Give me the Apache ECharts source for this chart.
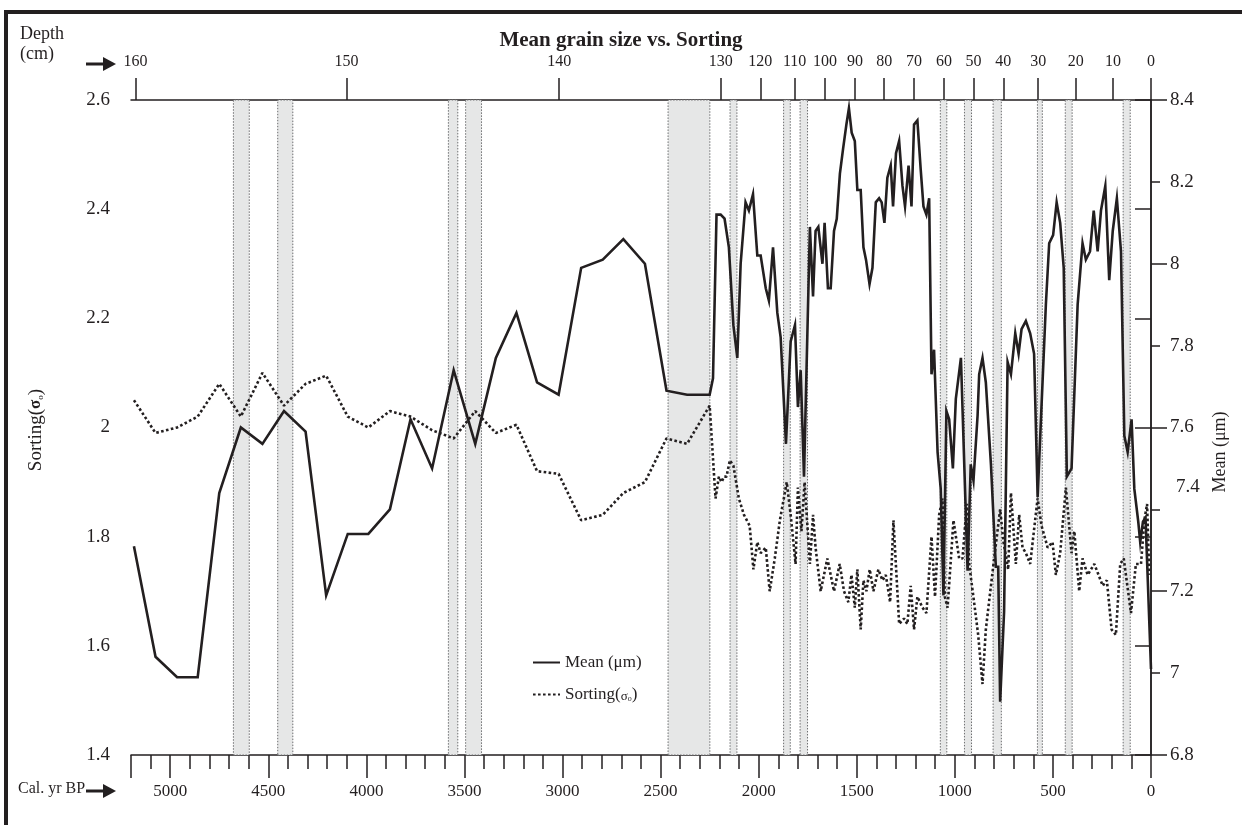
<!DOCTYPE html>
<html>
<head>
<meta charset="utf-8">
<script src="https://cdn.jsdelivr.net/npm/echarts@6/dist/echarts.min.js"></script>
<style>
html,body{margin:0;padding:0;background:#fff;}
#c{width:1242px;height:825px;}
</style>
</head>
<body>
<div id="c"></div>
<script>
// ---------------- DATA ----------------
// Bottom axis (Cal. yr BP) label values
const calLabels = [0, 500, 1000, 1500, 2000, 2500, 3000, 3500, 4000, 4500, 5000];
const calMajorTicks = [0, 500, 1000, 1500, 2000, 2500, 3000, 3500, 4000, 4500, 5000, 5200];
// Top axis: depth (cm) labels and the age at which each sits
const depthLabels = [160, 150, 140, 130, 120, 110, 100, 90, 80, 70, 60, 50, 40, 30, 20, 10, 0];
const depthAges   = [5177, 4101, 3017, 2194, 1992, 1817, 1662, 1509, 1360, 1208, 1055, 905, 753, 575, 383, 194, 0];
// Right axis long ticks
const meanMajorTicks = [6.8, 7.2, 7.6, 8.0, 8.4];

// Shaded intervals (Cal. yr BP)
const bandStart = [4678, 4452, 3582, 3494, 2462, 2146, 1873, 1789, 1074, 951, 805, 579, 437, 142];
const bandEnd   = [4597, 4375, 3534, 3413, 2249, 2111, 1839, 1751, 1041, 915, 763, 554, 402, 106];

// Lower (older) part: samples shared by both curves
const oldAges = [5185, 5075, 4965, 4860, 4750, 4640, 4530, 4420, 4310, 4205, 4095, 3990, 3880, 3775,
                 3665, 3555, 3445, 3340, 3235, 3130, 3020, 2905, 2795, 2690, 2580, 2470, 2365, 2250];
const oldMean = [7.31, 7.04, 6.99, 6.99, 7.44, 7.60, 7.56, 7.64, 7.59, 7.19, 7.34, 7.34, 7.40, 7.62,
                 7.50, 7.74, 7.56, 7.77, 7.88, 7.71, 7.68, 7.99, 8.01, 8.06, 8.00, 7.69, 7.68, 7.68];
const oldSorting = [2.05, 1.99, 2.00, 2.02, 2.08, 2.02, 2.10, 2.04, 2.08, 2.095, 2.02, 2.00, 2.03, 2.02,
                    1.995, 1.98, 2.03, 1.99, 2.005, 1.92, 1.915, 1.83, 1.84, 1.88, 1.90, 1.98, 1.97, 2.04];

// Upper (younger) part: Mean (µm)
const youngMeanAges = [2233, 2215, 2194, 2174, 2152, 2129, 2109, 2092, 2067, 2050, 2029, 2007, 1990, 1964,
  1948, 1927, 1905, 1888, 1861, 1837, 1815, 1800, 1786, 1769, 1739, 1723, 1710, 1696, 1675, 1664, 1647,
  1633, 1616, 1602, 1586, 1570, 1553, 1540, 1526, 1510, 1497, 1480, 1466, 1453, 1435, 1420, 1403, 1386,
  1373, 1359, 1344, 1327, 1315, 1300, 1284, 1267, 1254, 1236, 1221, 1208, 1191, 1174, 1160, 1145, 1131,
  1119, 1106, 1088, 1072, 1058, 1043, 1029, 1010, 995, 969, 935, 919, 905, 884, 876, 859, 842, 816, 791,
  779, 769, 749, 731, 714, 692, 675, 660, 638, 616, 596, 578, 536, 519, 499, 481, 463, 445, 429, 405,
  374, 349, 332, 311, 292, 272, 255, 233, 213, 195, 174, 153, 136, 119, 99, 85, 65, 55, 41, 28, 0];
const youngMean = [7.72, 8.12, 8.12, 8.11, 8.04, 7.85, 7.77, 8.00, 8.15, 8.13, 8.17, 8.02, 8.02, 7.94,
  7.91, 8.04, 7.88, 7.82, 7.56, 7.81, 7.85, 7.65, 7.74, 7.48, 8.09, 7.92, 8.08, 8.09, 8.00, 8.10, 7.94,
  7.94, 8.08, 8.11, 8.22, 8.28, 8.34, 8.38, 8.32, 8.30, 8.18, 8.18, 8.04, 8.01, 7.95, 7.99, 8.15, 8.16,
  8.15, 8.10, 8.21, 8.24, 8.14, 8.27, 8.30, 8.19, 8.14, 8.24, 8.14, 8.34, 8.35, 8.23, 8.14, 8.12, 8.16,
  7.73, 7.79, 7.54, 7.45, 7.19, 7.64, 7.62, 7.50, 7.67, 7.77, 7.25, 7.51, 7.47, 7.63, 7.73, 7.77, 7.71, 7.51, 7.26,
  7.26, 6.93, 7.15, 7.76, 7.73, 7.83, 7.78, 7.84, 7.86, 7.83, 7.78, 7.43, 7.90, 8.05, 8.07, 8.15, 8.10, 7.99, 7.48, 7.50,
  7.90, 8.05, 8.01, 8.03, 8.13, 8.03, 8.13, 8.19, 7.96, 8.08, 8.16, 8.03, 7.58, 7.54, 7.62, 7.45, 7.37, 7.32, 7.37, 7.38, 7.01];

// Upper (younger) part: Sorting
const youngSortAges = [2220, 2203, 2189, 2177, 2164, 2147, 2129, 2101, 2075, 2046, 2027, 2007, 1990, 1964,
  1944, 1918, 1892, 1857, 1837, 1812, 1800, 1782, 1766, 1739, 1723, 1710, 1684, 1650, 1616, 1587, 1565,
  1543, 1527, 1510, 1497, 1480, 1466, 1451, 1434, 1415, 1390, 1369, 1352, 1330, 1313, 1284, 1259, 1242,
  1225, 1208, 1191, 1165, 1145, 1119, 1101, 1080, 1063, 1051, 1037, 1007, 978, 961, 939, 927, 902, 881,
  859, 842, 803, 769, 752, 728, 714, 689, 672, 655, 638, 616, 578, 558, 527, 502, 485, 463, 434, 405,
  391, 366, 349, 323, 289, 246, 225, 201, 179, 157, 139, 102, 77, 51, 34, 20, 9];
const youngSorting = [1.87, 1.91, 1.90, 1.91, 1.91, 1.94, 1.93, 1.87, 1.84, 1.82, 1.74, 1.79, 1.77, 1.78,
  1.70, 1.76, 1.83, 1.90, 1.84, 1.75, 1.89, 1.81, 1.90, 1.75, 1.84, 1.78, 1.70, 1.76, 1.70, 1.75, 1.70,
  1.68, 1.73, 1.67, 1.74, 1.63, 1.72, 1.70, 1.74, 1.70, 1.74, 1.72, 1.73, 1.68, 1.83, 1.64, 1.65, 1.64,
  1.71, 1.63, 1.69, 1.67, 1.66, 1.80, 1.69, 1.84, 1.87, 1.69, 1.67, 1.83, 1.76, 1.76, 1.86, 1.75, 1.68, 1.62,
  1.53, 1.63, 1.75, 1.85, 1.79, 1.74, 1.88, 1.75, 1.84, 1.78, 1.77, 1.75, 1.87, 1.82, 1.78, 1.79, 1.73, 1.77, 1.89, 1.77,
  1.81, 1.70, 1.76, 1.73, 1.75, 1.71, 1.72, 1.63, 1.62, 1.75, 1.76, 1.66, 1.75, 1.75, 1.83, 1.86, 1.73];

// ---------------- CHART ----------------
const INK = '#231f20';
const FONT = '"Liberation Serif", "Times New Roman", serif';

const meanData = oldAges.map((a, i) => [a, oldMean[i]])
  .concat(youngMeanAges.map((a, i) => [a, youngMean[i]]));
const sortData = oldAges.map((a, i) => [a, oldSorting[i]])
  .concat(youngSortAges.map((a, i) => [a, youngSorting[i]]));
const bandAreas = bandStart.map((s, i) => [{ xAxis: s }, { xAxis: bandEnd[i] }]);

const axisLine = { show: true, lineStyle: { color: INK, width: 1.5 } };
const tickStyle = { color: INK, width: 1.5 };

const chart = echarts.init(document.getElementById('c'), null, { renderer: 'canvas' });
chart.setOption({
  animation: false,
  backgroundColor: '#ffffff',
  title: {
    text: 'Mean grain size vs. Sorting',
    left: 'center', top: 25,
    textStyle: { fontFamily: FONT, fontWeight: 'bold', fontSize: 21, color: INK }
  },
  grid: { left: 131, right: 91, top: 100, bottom: 70 },
  legend: {
    orient: 'vertical', left: 527, top: 649,
    itemWidth: 27, itemHeight: 14, itemGap: 15,
    itemStyle: { opacity: 0, borderWidth: 0 },
    textStyle: {
      fontFamily: FONT, fontSize: 17, color: INK,
      rich: {
        n: { fontFamily: FONT, fontSize: 17, color: INK },
        g: { fontFamily: FONT, fontSize: 13, color: INK, padding: [4, 0, 0, 0] },
        s: { fontFamily: FONT, fontSize: 8, color: INK, padding: [8, 0, 0, 0] }
      }
    },
    formatter: function (name) {
      return name === 'Sorting' ? '{n|Sorting(}{g|σ}{s|o}{n|)}' : name;
    },
    data: ['Mean (μm)', 'Sorting']
  },
  xAxis: [
    {
      type: 'value', position: 'bottom', min: 0, max: 5200, interval: 100, inverse: true,
      axisLine: axisLine,
      axisTick: { show: true, length: 14, lineStyle: tickStyle },
      axisLabel: {
        customValues: calLabels, margin: 28, fontFamily: FONT, fontSize: 17, color: INK,
        formatter: function (v) { return String(v); }
      },
      splitLine: { show: false }
    },
    {
      type: 'value', position: 'top', min: 0, max: 5200, inverse: true,
      axisLine: axisLine,
      axisTick: { show: true, customValues: depthAges, length: 22, lineStyle: tickStyle },
      axisLabel: {
        customValues: depthAges, margin: 30, fontFamily: FONT, fontSize: 16, color: INK,
        formatter: function (v) {
          const i = depthAges.indexOf(v);
          return i >= 0 ? String(depthLabels[i]) : '';
        }
      },
      splitLine: { show: false }
    },
    {
      type: 'value', position: 'bottom', min: 0, max: 5200, inverse: true,
      axisLine: { show: false },
      axisTick: { show: true, customValues: calMajorTicks, length: 23, lineStyle: tickStyle },
      axisLabel: { show: false },
      splitLine: { show: false }
    }
  ],
  yAxis: [
    {
      type: 'value', position: 'left', min: 1.4, max: 2.6, interval: 0.2,
      axisLine: axisLine,
      axisTick: { show: true, length: 16, lineStyle: tickStyle },
      axisLabel: { margin: 21, fontFamily: FONT, fontSize: 19, color: INK },
      splitLine: { show: false }
    },
    {
      type: 'value', position: 'right', min: 6.8, max: 8.4, interval: 0.2,
      axisLine: axisLine,
      axisTick: { show: true, length: 9, lineStyle: tickStyle },
      axisLabel: {
        margin: 19, fontFamily: FONT, fontSize: 19, color: INK,
        formatter: function (v) {
          const s = String(Math.round(v * 10) / 10);
          return s === '7.4' ? '{up|7.4}' : s;
        },
        rich: { up: { fontFamily: FONT, fontSize: 19, color: INK, padding: [0, 0, 44, 6] } }
      },
      splitLine: { show: false }
    },
    {
      type: 'value', position: 'right', min: 6.8, max: 8.4,
      axisLine: { show: false },
      axisTick: { show: true, customValues: meanMajorTicks, length: 16, lineStyle: tickStyle },
      axisLabel: { show: false },
      splitLine: { show: false }
    }
  ],
  series: [
    {
      name: 'Mean (μm)', type: 'line', xAxisIndex: 0, yAxisIndex: 1,
      data: meanData, symbol: 'none', z: 4,
      lineStyle: { color: INK, width: 2.6, type: 'solid', join: 'miter' },
      itemStyle: { color: INK }
    },
    {
      name: 'Sorting', type: 'line', xAxisIndex: 0, yAxisIndex: 0,
      data: sortData, symbol: 'none', z: 3,
      lineStyle: { color: INK, width: 2.6, type: [2.6, 2.4] },
      itemStyle: { color: INK },
      markArea: {
        silent: true,
        itemStyle: { color: '#e6e7e7', borderColor: '#6d6e70', borderWidth: 1, borderType: [1.5, 1.5] },
        data: bandAreas
      }
    }
  ],
  graphic: [
    {
      type: 'rect', silent: true, z: 100,
      shape: { x: 6, y: 12, width: 1300, height: 900 },
      style: { fill: 'none', stroke: INK, lineWidth: 4 }
    },
    {
      type: 'text', left: 20, top: 24, z: 100,
      style: { text: 'Depth\n(cm)', font: '18px ' + FONT, fill: INK, lineHeight: 20 }
    },
    {
      type: 'group', z: 100,
      children: [
        { type: 'line', shape: { x1: 86, y1: 64, x2: 108, y2: 64 }, style: { stroke: INK, lineWidth: 3 } },
        { type: 'polygon', shape: { points: [[103, 57], [116, 64], [103, 71]] }, style: { fill: INK } },
        { type: 'line', shape: { x1: 86, y1: 791, x2: 108, y2: 791 }, style: { stroke: INK, lineWidth: 3 } },
        { type: 'polygon', shape: { points: [[103, 784], [116, 791], [103, 798]] }, style: { fill: INK } }
      ]
    },
    {
      type: 'text', left: 18, top: 781, z: 100,
      style: { text: 'Cal. yr BP', font: '16px ' + FONT, fill: INK }
    },
    {
      type: 'text', x: 36, y: 430, rotation: Math.PI / 2, z: 100,
      style: {
        text: '{n|Sorting(}{g|σ}{s|o}{n|)}',
        align: 'center', verticalAlign: 'middle',
        rich: {
          n: { font: '19px ' + FONT, fill: INK },
          g: { font: 'bold 17px ' + FONT, fill: INK },
          s: { font: '9px ' + FONT, fill: INK, padding: [9, 0, 0, 0] }
        }
      }
    },
    {
      type: 'text', x: 1220, y: 452, rotation: Math.PI / 2, z: 100,
      style: { text: 'Mean (μm)', font: '18px ' + FONT, fill: INK, align: 'center', verticalAlign: 'middle' }
    }
  ]
});
</script>
</body>
</html>
